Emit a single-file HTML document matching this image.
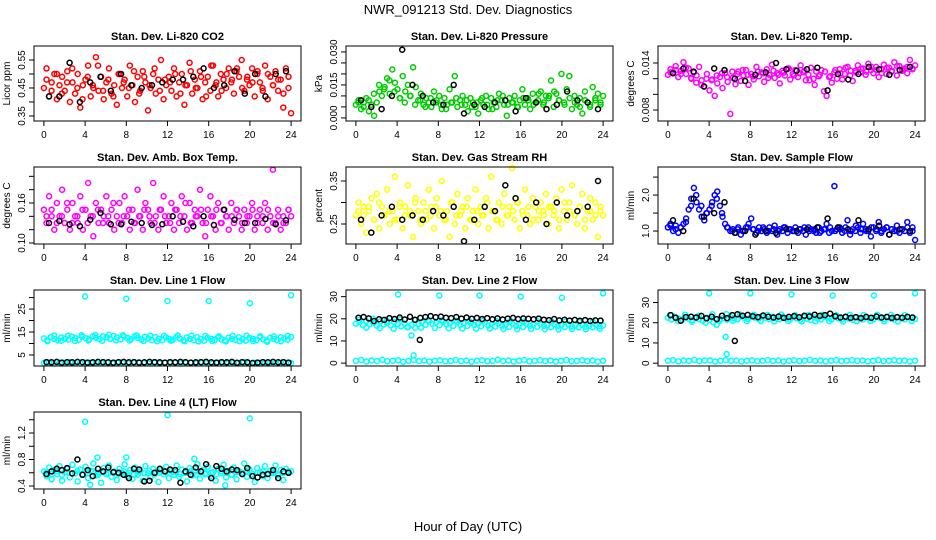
<!DOCTYPE html>
<html><head><meta charset="utf-8"><style>
html,body{margin:0;padding:0;background:#fff;}
svg{display:block;font-family:"Liberation Sans",sans-serif;}
</style></head><body>
<svg id="chart" width="936" height="540" viewBox="0 0 936 540">
<rect x="0" y="0" width="936" height="540" fill="#fff"/>
<text x="468" y="14" text-anchor="middle" font-size="13">NWR_091213 Std. Dev. Diagnostics</text>
<text x="468" y="531" text-anchor="middle" font-size="13">Hour of Day (UTC)</text>
</svg>
<script>
// ---- data ----
const hourTicks = [0,4,8,12,16,20,24];
const co2Vals = [0.45,0.52,0.42,0.47,0.50,0.41,0.46,0.49,0.44,0.51,0.40,0.47,0.43,0.50,0.38,0.46,0.48,0.53,0.42,0.45,0.56,0.44,0.49,0.41,0.47,0.52,0.43,0.46,0.39,0.50,0.45,0.48,0.42,0.53,0.46,0.40,0.49,0.44,0.51,0.47,0.37,0.45,0.50,0.43,0.48,0.55,0.41,0.46,0.49,0.44,0.52,0.42,0.47,0.50,0.39,0.46,0.54,0.43,0.48,0.45,0.51,0.41,0.47,0.49,0.44,0.53,0.46,0.42,0.50,0.48,0.45,0.52,0.47,0.43,0.51,0.49,0.55,0.44,0.48,0.46,0.52,0.42,0.50,0.47,0.45,0.53,0.41,0.49,0.46,0.51,0.44,0.48,0.38,0.52,0.45,0.36];
const co2Vals2 = [0.48,0.44,0.50,0.43,0.47,0.52,0.45,0.41,0.49,0.46,0.53,0.44,0.48,0.42,0.50,0.47,0.45,0.51,0.43,0.49,0.46,0.52,0.44,0.48,0.47,0.50,0.43,0.46,0.51,0.45,0.49,0.42,0.53,0.47,0.44,0.50,0.48,0.52,0.45,0.49,0.47,0.51,0.44,0.50,0.46,0.48,0.43,0.49];
const co2Black = [0.42,0.42,0.54,0.40,0.47,0.49,0.44,0.50,0.46,0.45,0.46,0.47,0.48,0.48,0.49,0.52,0.45,0.46,0.51,0.43,0.50,0.42,0.50,0.51];
const presVals = [0.006,0.008,0.004,0.007,0.009,0.003,0.006,0.001,0.007,0.012,0.010,0.014,0.018,0.011,0.022,0.016,0.013,0.009,0.019,0.012,0.015,0.010,0.023,0.014,0.008,0.011,0.006,0.009,0.007,0.005,0.012,0.008,0.010,0.004,0.009,0.006,0.013,0.007,0.019,0.005,0.008,0.010,0.006,0.003,0.009,0.007,0.005,0.002,0.008,0.006,0.010,0.004,0.009,0.007,0.005,0.011,0.008,0.006,0.001,0.009,0.007,0.010,0.005,0.008,0.013,0.006,0.009,0.004,0.011,0.007,0.008,0.012,0.006,0.010,0.009,0.017,0.005,0.011,0.008,0.020,0.007,0.013,0.019,0.004,0.010,0.006,0.009,0.002,0.012,0.007,0.005,0.014,0.008,0.011,0.006,0.010];
const presVals2 = [0.007,0.005,0.008,0.011,0.015,0.013,0.017,0.012,0.009,0.007,0.010,0.006,0.008,0.005,0.009,0.007,0.006,0.004,0.007,0.009,0.006,0.008,0.005,0.007,0.009,0.006,0.004,0.008,0.010,0.006,0.007,0.005,0.009,0.008,0.006,0.011,0.007,0.010,0.012,0.008,0.006,0.009,0.007,0.005,0.008,0.006,0.009,0.007];
const presBlack = [0.008,0.005,0.004,0.010,0.031,0.015,0.010,0.007,0.006,0.015,0.002,0.006,0.005,0.007,0.008,0.003,0.009,0.007,0.004,0.006,0.012,0.008,0.007,0.004];
const tempVals = [0.0125,0.0132,0.0128,0.0136,0.0122,0.0130,0.0141,0.0126,0.0133,0.0120,0.0128,0.0124,0.0135,0.0118,0.0110,0.0126,0.0105,0.0119,0.0098,0.0114,0.0122,0.0108,0.0127,0.0116,0.0075,0.0121,0.0113,0.0129,0.0117,0.0124,0.0131,0.0112,0.0126,0.0119,0.0135,0.0123,0.0128,0.0116,0.0132,0.0125,0.0138,0.0121,0.0127,0.0114,0.0130,0.0124,0.0133,0.0119,0.0126,0.0131,0.0122,0.0137,0.0128,0.0118,0.0125,0.0134,0.0120,0.0129,0.0123,0.0131,0.0104,0.0098,0.0122,0.0115,0.0128,0.0120,0.0132,0.0119,0.0126,0.0135,0.0124,0.0117,0.0130,0.0137,0.0128,0.0133,0.0125,0.0139,0.0131,0.0127,0.0135,0.0122,0.0132,0.0138,0.0126,0.0134,0.0129,0.0141,0.0124,0.0136,0.0130,0.0133,0.0127,0.0144,0.0132,0.0137];
const tempVals2 = [0.0128,0.0131,0.0126,0.0134,0.0121,0.0115,0.0112,0.0120,0.0118,0.0124,0.0127,0.0122,0.0129,0.0126,0.0131,0.0125,0.0123,0.0129,0.0127,0.0121,0.0130,0.0125,0.0128,0.0133,0.0124,0.0127,0.0130,0.0118,0.0112,0.0125,0.0129,0.0123,0.0131,0.0127,0.0134,0.0130,0.0128,0.0133,0.0129,0.0135,0.0131,0.0127,0.0134,0.0130,0.0136,0.0132,0.0135,0.0133];
const tempBlack = [0.0127,0.0133,0.0129,0.0110,0.0133,0.0131,0.0120,0.0117,0.0125,0.0128,0.0140,0.0132,0.0130,0.0132,0.0134,0.0105,0.0126,0.0119,0.0126,0.0135,0.0132,0.0125,0.0131,0.0135];
const ambVals = [0.15,0.13,0.17,0.14,0.12,0.16,0.14,0.18,0.13,0.15,0.12,0.16,0.14,0.13,0.17,0.12,0.15,0.19,0.14,0.11,0.16,0.13,0.15,0.14,0.17,0.13,0.15,0.12,0.14,0.16,0.13,0.17,0.14,0.12,0.15,0.13,0.18,0.14,0.12,0.16,0.15,0.13,0.19,0.14,0.12,0.15,0.17,0.13,0.14,0.16,0.12,0.15,0.13,0.17,0.14,0.12,0.16,0.13,0.15,0.14,0.18,0.13,0.11,0.15,0.17,0.14,0.12,0.16,0.13,0.15,0.14,0.12,0.16,0.13,0.15,0.14,0.12,0.15,0.13,0.14,0.16,0.12,0.14,0.15,0.13,0.16,0.12,0.14,0.21,0.13,0.15,0.12,0.14,0.13,0.15,0.14];
const ambVals2 = [0.14,0.15,0.13,0.14,0.16,0.13,0.14,0.15,0.13,0.14,0.15,0.13,0.14,0.16,0.13,0.14,0.15,0.13,0.14,0.15,0.14,0.13,0.15,0.14,0.13,0.15,0.14,0.16,0.13,0.14,0.15,0.13,0.14,0.15,0.13,0.14,0.14,0.15,0.13,0.14,0.15,0.13,0.14,0.15,0.13,0.14,0.13,0.15];
const ambBlack = [0.130,0.133,0.128,0.125,0.135,0.145,0.128,0.128,0.132,0.130,0.127,0.128,0.140,0.132,0.125,0.140,0.127,0.150,0.135,0.130,0.130,0.136,0.128,0.134];
const rhVals = [0.27,0.30,0.25,0.29,0.23,0.28,0.31,0.26,0.32,0.24,0.29,0.27,0.33,0.25,0.28,0.36,0.26,0.30,0.24,0.29,0.34,0.27,0.22,0.31,0.28,0.25,0.30,0.26,0.33,0.29,0.24,0.31,0.27,0.35,0.26,0.28,0.22,0.30,0.25,0.32,0.27,0.29,0.24,0.31,0.26,0.28,0.33,0.25,0.29,0.27,0.31,0.24,0.36,0.28,0.26,0.30,0.25,0.32,0.27,0.29,0.38,0.26,0.30,0.24,0.28,0.33,0.27,0.25,0.31,0.29,0.26,0.30,0.28,0.32,0.25,0.29,0.27,0.31,0.24,0.33,0.28,0.26,0.30,0.34,0.27,0.25,0.29,0.32,0.24,0.28,0.31,0.26,0.30,0.22,0.28,0.27];
const rhVals2 = [0.28,0.27,0.29,0.26,0.30,0.27,0.28,0.26,0.29,0.27,0.28,0.30,0.26,0.28,0.27,0.29,0.28,0.26,0.30,0.27,0.28,0.29,0.26,0.28,0.27,0.30,0.28,0.26,0.29,0.27,0.28,0.30,0.27,0.29,0.26,0.28,0.27,0.29,0.28,0.26,0.30,0.28,0.27,0.29,0.26,0.28,0.27,0.29];
const rhBlack = [0.26,0.23,0.27,0.29,0.26,0.27,0.26,0.28,0.27,0.29,0.21,0.26,0.29,0.28,0.34,0.31,0.26,0.30,0.25,0.30,0.27,0.28,0.29,0.35];
const flowVals = [1.1,1.2,1.0,1.15,0.95,1.1,1.2,1.35,1.6,1.9,2.2,1.8,1.6,1.4,1.3,1.5,1.6,1.8,2.0,2.1,1.7,1.4,1.2,1.1,1.0,1.05,0.95,1.1,0.9,1.0,1.1,1.2,1.35,1.05,0.95,1.1,1.0,1.05,0.95,1.1,1.0,1.15,0.9,1.05,1.0,1.1,0.95,1.05,1.0,1.1,0.95,1.05,1.0,0.9,1.1,1.05,1.0,0.95,1.1,1.0,1.05,1.2,0.95,1.0,2.25,1.05,1.1,0.95,1.0,1.3,0.9,1.05,1.0,1.1,0.95,1.2,1.05,1.0,0.85,1.1,1.0,1.25,0.95,1.05,1.1,0.9,1.05,1.0,1.15,0.95,1.05,1.0,1.25,0.95,1.1,0.75];
const flowVals2 = [1.15,1.05,1.1,1.25,1.7,2.0,1.7,1.5,1.7,1.9,1.5,1.1,1.0,1.05,1.0,1.1,1.05,1.0,1.1,1.0,1.05,1.0,1.1,1.05,1.0,1.05,1.1,1.0,1.05,0.95,1.05,1.1,1.0,1.05,1.1,1.0,1.15,1.05,1.0,1.1,1.05,1.0,1.1,1.05,1.0,1.05,1.1,1.0];
const flowBlack = [1.3,1.0,1.9,1.4,1.5,1.8,0.95,1.0,0.9,1.0,0.95,1.05,1.0,1.05,1.1,1.35,1.1,1.05,1.3,1.05,1.15,0.9,1.05,1.0];
const l1High = [12.2,11.5,12.8,12.0,11.3,12.6,12.1,11.7,13.0,12.4,11.6,12.9,12.3,11.8,13.1,12.5,11.9,13.2,12.7,12.0,13.3,12.6,11.8,13.0,12.4,11.9,13.1,12.5,11.7,12.9,12.2,11.5,12.8,12.1,11.4,12.7,12.0,11.6,12.8,12.2,11.3,12.6,12.0,11.5,12.7,11.9,11.2,12.5,12.1,11.4,12.6,11.8,11.3,12.5,12.0,11.6,12.7,11.9,11.2,12.4,12.1,11.5,12.6,11.8,11.3,12.5,12.0,11.4,12.7,12.2,11.6,12.8];
const l1High2 = [11.0,13.5,11.2,13.4,11.1,13.6,11.3,13.7,11.2,13.8,11.4,13.6,11.3,13.5,11.1,13.4,11.0,13.3,11.2,13.5,11.0,13.4,10.9,13.3,11.1,13.2,10.9,13.3,11.0,13.4,11.1,13.2,10.8,13.1,11.0,13.3];
const l1Low = [1.5,1.7,1.3,1.6,1.4,1.8,1.5,1.3,1.6,1.7,1.4,1.5,1.6,1.3,1.7,1.5,1.4,1.6,1.8,1.5,1.3,1.6,1.4,1.7,1.5,1.6,1.3,1.5,1.7,1.4,1.6,1.5,1.3,1.7,1.5,1.4,1.6,1.5,1.8,1.4,1.6,1.3,1.5,1.7,1.4,1.6,1.5,1.4];
const l1Black = [1.9,1.8,2.0,1.7,1.9,1.8,2.0,1.9,1.7,1.8,2.0,1.9,1.8,1.7,1.9,2.0,1.8,1.9,1.7,1.8,2.0,1.9,1.8,1.7,1.9,1.8,2.0,1.9,1.7,1.8,1.9,2.0,1.8,1.7,1.9,1.8,2.0,1.6,1.9,1.8,1.5,1.7,1.9,1.8,2.0,1.8,1.9,1.7];
const l1OutHours = [4,8,12,16,20,24];
const l1OutVals = [30.5,29.5,28.5,28.5,27.5,31];
const l2High = [17.8,18.5,17.2,19.0,17.6,18.2,16.9,18.8,17.4,18.1,17.0,18.6,17.5,16.6,17.9,16.4,17.2,16.0,17.8,18.4,17.3,18.9,17.7,18.3,17.1,18.6,17.6,18.0,16.9,18.4,17.3,17.9,16.8,18.2,17.2,17.7,16.7,18.1,17.0,17.6,16.5,17.9,16.9,17.4,16.4,17.8,16.8,17.3,16.3,17.7,16.9,17.5,16.4,17.6,16.8,17.2,16.2,17.5,16.7,17.1,16.3,17.4,16.6,17.0,16.1,17.3,16.5,16.9,16.2,17.2,16.6,17.0];
const l2High2 = [19.5,16.0,20.0,15.8,19.2,15.5,19.8,16.2,19.6,16.0,19.4,15.9,19.3,15.7,19.2,15.6,19.0,15.5,19.1,15.6,18.9,15.4,19.0,15.3,18.8,15.4,18.9,15.3,18.7,15.2,18.8,15.4,18.6,15.3,18.7,15.5];
const l2Low = [1.0,1.4,0.7,1.2,0.9,1.5,0.8,1.1,1.3,0.6,1.0,1.4,0.9,1.2,0.7,1.1,1.3,0.8,1.0,1.4,0.9,1.2,0.6,1.1,1.3,0.8,1.0,1.5,0.9,1.2,0.7,1.1,1.4,0.8,1.0,1.3,0.9,1.2,0.7,1.1,1.4,0.8,1.0,1.3,0.9,1.2,0.7,1.1];
const l2Black = [20.5,20.8,20.2,19.0,19.8,19.5,20.3,19.9,20.6,19.7,20.9,19.6,20.4,20.8,21.2,20.7,21.0,20.5,20.3,20.8,20.1,20.6,20.0,20.4,19.9,20.3,19.8,20.2,19.7,20.1,20.4,19.9,20.2,20.0,19.8,20.1,19.6,19.4,19.9,19.3,19.6,19.2,19.5,19.1,19.4,19.0,19.3,19.2];
const l2OutHours = [4.1,5.4,5.6,8.1,12,16,20,24];
const l2OutVals = [31,12.5,3.5,30.5,30.5,30,29.5,31.5];
const l2BlackOutHours = [6.2];
const l2BlackOutVals = [10.5];
const l3High = [22.5,21.6,23.0,22.1,21.4,22.8,22.0,21.3,22.6,21.8,21.0,22.4,21.5,20.2,19.0,21.7,22.3,21.5,22.9,22.2,21.7,23.1,22.4,21.9,23.2,22.6,22.0,23.3,22.5,21.8,23.0,22.3,21.7,22.9,22.1,21.6,22.8,22.2,21.5,22.7,22.0,21.4,22.6,22.1,21.6,22.8,22.3,21.7,22.9,22.2,21.6,22.7,22.0,21.5,22.6,22.1,21.6,22.8,22.2,21.7,22.9,22.3,21.8,22.7,22.1,21.6,22.8,22.2,21.7,22.9,22.4,21.9];
const l3High2 = [23.8,20.8,24.0,20.5,23.5,20.0,24.2,20.9,24.3,21.0,24.1,20.8,24.0,20.9,23.9,20.7,24.1,20.8,23.8,20.6,23.9,20.7,24.0,20.8,23.8,20.6,23.9,20.7,23.8,20.8,24.0,20.7,23.9,20.6,23.8,20.9];
const l3Low = [1.2,1.5,0.9,1.3,1.1,1.6,1.0,1.3,1.4,0.8,1.2,1.5,1.1,1.3,0.9,1.2,1.4,1.0,1.2,1.5,1.1,1.3,0.8,1.2,1.4,1.0,1.2,1.6,1.1,1.3,0.9,1.2,1.5,1.0,1.2,1.4,1.1,1.3,0.9,1.2,1.5,1.0,1.2,1.4,1.1,1.3,0.9,1.2];
const l3Black = [23.8,22.5,21.0,22.8,23.0,22.6,23.4,22.2,23.0,21.8,23.5,22.3,23.8,24.2,23.5,23.9,23.2,22.8,23.6,23.0,22.6,23.1,22.4,22.9,23.3,22.7,23.5,23.1,24.0,23.4,23.8,24.5,23.2,22.6,23.0,22.4,22.8,22.3,22.9,22.5,23.1,22.6,22.9,22.4,22.8,22.5,22.9,22.6];
const l3OutHours = [4,8,12,16,20,24,5.6,5.7];
const l3OutVals = [34.5,34.5,34,33.5,33.5,34.5,13,4.5];
const l3BlackOutHours = [6.5];
const l3BlackOutVals = [11];
const l4Vals = [0.62,0.55,0.68,0.50,0.64,0.58,0.70,0.48,0.61,0.66,0.53,0.72,0.59,0.47,0.65,0.57,0.69,0.52,0.63,0.74,0.56,0.60,0.45,0.67,0.58,0.71,0.54,0.62,0.49,0.66,0.60,0.73,0.55,0.64,0.51,0.68,0.57,0.62,0.48,0.70,0.59,0.53,0.66,0.61,0.46,0.64,0.58,0.69,0.52,0.63,0.57,0.71,0.54,0.65,0.60,0.47,0.67,0.56,0.62,0.73,0.51,0.64,0.58,0.69,0.55,0.61,0.48,0.66,0.59,0.72,0.53,0.63,0.57,0.68,0.50,0.62,0.60,0.74,0.54,0.65,0.58,0.46,0.67,0.61,0.55,0.70,0.52,0.63,0.59,0.71,0.56,0.64,0.49,0.66,0.60,0.62];
const l4Vals2 = [0.60,0.58,0.62,0.57,0.61,0.59,0.63,0.58,0.60,0.62,0.57,0.61,0.59,0.60,0.58,0.62,0.60,0.57,0.61,0.59,0.63,0.58,0.60,0.62,0.59,0.61,0.58,0.60,0.62,0.57,0.61,0.59,0.60,0.58,0.62,0.60,0.57,0.61,0.59,0.63,0.58,0.60,0.62,0.59,0.61,0.58,0.60,0.62];
const l4Black = [0.58,0.62,0.66,0.64,0.67,0.59,0.80,0.57,0.64,0.55,0.66,0.62,0.68,0.61,0.60,0.57,0.52,0.66,0.65,0.47,0.48,0.60,0.66,0.62,0.65,0.64,0.45,0.62,0.57,0.68,0.62,0.73,0.52,0.70,0.66,0.62,0.65,0.64,0.58,0.67,0.55,0.53,0.57,0.58,0.64,0.52,0.62,0.60];
const l4OutHours = [4,12,20,5.2,8,14.6,4.5,17.6];
const l4OutVals = [1.37,1.47,1.42,0.83,0.83,0.81,0.42,0.41];

// ---- layout ----
const NS = "http://www.w3.org/2000/svg";
const svg = document.getElementById('chart');
const colX = [34,346,658], PW = 267;
const rowY = [46,167,290,412], rowH = [75,77,76,77];
const XMIN = -0.96, XMAX = 24.96;
function mk(tag, attrs, parent){ const e=document.createElementNS(NS,tag); for(const k in attrs) e.setAttribute(k,attrs[k]); (parent||svg).appendChild(e); return e; }
function evenly(arr){ return arr.map((v,i)=> i*24/(arr.length-1)); }
function halfHours(arr){ return arr.map((v,i)=> (i+0.5)*24/arr.length); }

const panels = [
 {id:'co2', col:0,row:0,title:'Stan. Dev. Li-820 CO2', ylab:'Licor ppm', ymin:0.332,ymax:0.60, ticks:[0.35,0.40,0.45,0.50,0.55], labels:{'0.35':'0.35','0.45':'0.45','0.55':'0.55'},
  series:[{xs:evenly(co2Vals),ys:co2Vals,c:'#ff0000'},{xs:halfHours(co2Vals2),ys:co2Vals2,c:'#ff0000'},{xs:halfHours(co2Black),ys:co2Black,c:'#000'}]},
 {id:'pressure', col:1,row:0,title:'Stan. Dev. Li-820 Pressure', ylab:'kPa', ymin:-0.0014,ymax:0.0327, ticks:[0,0.005,0.010,0.015,0.020,0.025,0.030], labels:{'0':'0.000','0.015':'0.015','0.03':'0.030'},
  series:[{xs:evenly(presVals),ys:presVals,c:'#00cd00'},{xs:halfHours(presVals2),ys:presVals2,c:'#00cd00'},{xs:halfHours(presBlack),ys:presBlack,c:'#000'}]},
 {id:'temp', col:2,row:0,title:'Stan. Dev. Li-820 Temp.', ylab:'degrees C', ymin:0.0066,ymax:0.01617, ticks:[0.008,0.010,0.012,0.014], labels:{'0.008':'0.008','0.014':'0.014'},
  series:[{xs:evenly(tempVals),ys:tempVals,c:'#ff00ff'},{xs:halfHours(tempVals2),ys:tempVals2,c:'#ff00ff'},{xs:halfHours(tempBlack),ys:tempBlack,c:'#000'}]},
 {id:'amb-box-temp', col:0,row:1,title:'Stan. Dev. Amb. Box Temp.', ylab:'degrees C', ymin:0.0985,ymax:0.214, ticks:[0.10,0.12,0.14,0.16,0.18,0.20], labels:{'0.1':'0.10','0.16':'0.16'},
  series:[{xs:evenly(ambVals),ys:ambVals,c:'#ff00ff'},{xs:halfHours(ambVals2),ys:ambVals2,c:'#ff00ff'},{xs:halfHours(ambBlack),ys:ambBlack,c:'#000'}]},
 {id:'gas-rh', col:1,row:1,title:'Stan. Dev. Gas Stream RH', ylab:'percent', ymin:0.2035,ymax:0.3826, ticks:[0.25,0.30,0.35], labels:{'0.25':'0.25','0.35':'0.35'},
  series:[{xs:evenly(rhVals),ys:rhVals,c:'#ffff00'},{xs:halfHours(rhVals2),ys:rhVals2,c:'#ffff00'},{xs:halfHours(rhBlack),ys:rhBlack,c:'#000'}]},
 {id:'sample-flow', col:2,row:1,title:'Stan. Dev. Sample Flow', ylab:'ml/min', ymin:0.64,ymax:2.78, ticks:[1.0,1.5,2.0,2.5], labels:{'1':'1.0','2':'2.0'},
  series:[{xs:evenly(flowVals),ys:flowVals,c:'#0000ff'},{xs:halfHours(flowVals2),ys:flowVals2,c:'#0000ff'},{xs:halfHours(flowBlack),ys:flowBlack,c:'#000'}]},
 {id:'line1-flow', col:0,row:2,title:'Stan. Dev. Line 1 Flow', ylab:'ml/min', ymin:0.2,ymax:33.3, ticks:[5,10,15,20,25,30], labels:{'5':'5','15':'15','25':'25'},
  series:[{xs:evenly(l1High),ys:l1High,c:'#00ffff'},{xs:halfHours(l1High2),ys:l1High2,c:'#00ffff'},{xs:evenly(l1Low),ys:l1Low,c:'#00ffff'},{xs:l1OutHours,ys:l1OutVals,c:'#00ffff'},{xs:halfHours(l1Black),ys:l1Black,c:'#000'}]},
 {id:'line2-flow', col:1,row:2,title:'Stan. Dev. Line 2 Flow', ylab:'ml/min', ymin:-1.3,ymax:33, ticks:[0,10,20,30], labels:{'0':'0','10':'10','20':'20','30':'30'},
  series:[{xs:evenly(l2High),ys:l2High,c:'#00ffff'},{xs:halfHours(l2High2),ys:l2High2,c:'#00ffff'},{xs:evenly(l2Low),ys:l2Low,c:'#00ffff'},{xs:l2OutHours,ys:l2OutVals,c:'#00ffff'},{xs:halfHours(l2Black),ys:l2Black,c:'#000'},{xs:l2BlackOutHours,ys:l2BlackOutVals,c:'#000'}]},
 {id:'line3-flow', col:2,row:2,title:'Stan. Dev. Line 3 Flow', ylab:'ml/min', ymin:-1.4,ymax:36.2, ticks:[0,10,20,30], labels:{'0':'0','10':'10','20':'20','30':'30'},
  series:[{xs:evenly(l3High),ys:l3High,c:'#00ffff'},{xs:halfHours(l3High2),ys:l3High2,c:'#00ffff'},{xs:evenly(l3Low),ys:l3Low,c:'#00ffff'},{xs:l3OutHours,ys:l3OutVals,c:'#00ffff'},{xs:halfHours(l3Black),ys:l3Black,c:'#000'},{xs:l3BlackOutHours,ys:l3BlackOutVals,c:'#000'}]},
 {id:'line4-flow', col:0,row:3,title:'Stan. Dev. Line 4 (LT) Flow', ylab:'ml/min', ymin:0.355,ymax:1.517, ticks:[0.4,0.6,0.8,1.0,1.2,1.4], labels:{'0.4':'0.4','0.8':'0.8','1.2':'1.2'},
  series:[{xs:evenly(l4Vals),ys:l4Vals,c:'#00ffff'},{xs:halfHours(l4Vals2),ys:l4Vals2,c:'#00ffff'},{xs:l4OutHours,ys:l4OutVals,c:'#00ffff'},{xs:halfHours(l4Black),ys:l4Black,c:'#000'}]}
];

panels.forEach(p=>{
  const x0=colX[p.col], y0=rowY[p.row], h=rowH[p.row], x1=x0+PW, y1=y0+h;
  const sx = v => x0 + (v-XMIN)/(XMAX-XMIN)*PW;
  const sy = v => y1 - (v-p.ymin)/(p.ymax-p.ymin)*h;
  const g = mk('g',{});
  
  
  const t = mk('text',{x:x0+PW/2,y:y0-6,'text-anchor':'middle','font-size':'11','font-weight':'bold'},g);
  t.textContent = p.title;
  
  
  const pts = mk('g',{fill:'none','stroke-width':'1.5'},g);
  
  
  p.series.forEach(s=>{
    s.ys.forEach((v,i)=>{
      const c = mk('circle',{cx:sx(s.xs[i]).toFixed(1),cy:sy(v).toFixed(1),r:'2.5',stroke:s.c},pts);
      
      
    });
  });
  const box = mk('rect',{x:x0,y:y0,width:PW,height:h,fill:'none',stroke:'#000','stroke-width':'1'},g);
  
  
  const xa = mk('g',{},g);
  
  
  mk('line',{x1:sx(0),x2:sx(24),y1:y1,y2:y1,stroke:'#000'},xa);
  hourTicks.forEach(v=>{
    mk('line',{x1:sx(v),x2:sx(v),y1:y1,y2:y1+5,stroke:'#000'},xa);
    const l = mk('text',{x:sx(v),y:y1+17,'text-anchor':'middle','font-size':'10'},xa);
    l.textContent = v;
    
    
  });
  const ya = mk('g',{},g);
  
  
  mk('line',{x1:x0,x2:x0,y1:sy(p.ticks[0]),y2:sy(p.ticks[p.ticks.length-1]),stroke:'#000'},ya);
  p.ticks.forEach(v=>{
    mk('line',{x1:x0-5,x2:x0,y1:sy(v),y2:sy(v),stroke:'#000'},ya);
    const key = String(+v.toFixed(4));
    if(p.labels[key]!==undefined){
      const yy=sy(v), xx=x0-9;
      const l = mk('text',{x:xx,y:yy,'text-anchor':'middle','font-size':'10',transform:`rotate(-90 ${xx} ${yy})`},ya);
      l.textContent = p.labels[key];
      
      
    }
  });
  const yl = mk('text',{x:x0-24,y:y0+h/2,'text-anchor':'middle','font-size':'10',transform:`rotate(-90 ${x0-24} ${y0+h/2})`},g);
  yl.textContent = p.ylab;
  
  
});
</script>
</body></html>
